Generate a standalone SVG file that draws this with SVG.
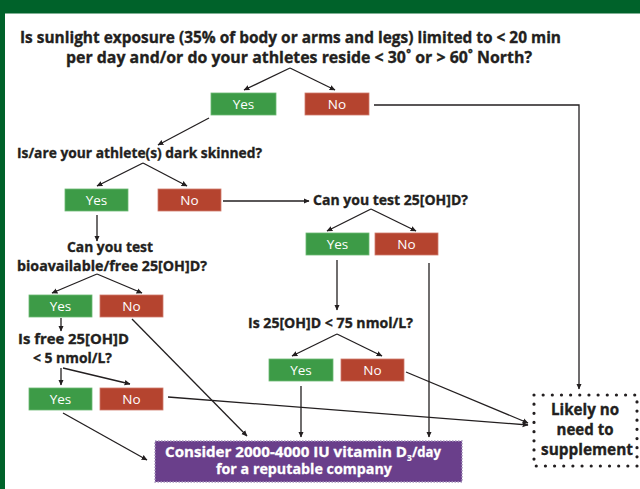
<svg xmlns="http://www.w3.org/2000/svg" width="640" height="489" viewBox="0 0 640 489">
<defs>
<marker id="ah" viewBox="0 0 10 10" refX="9" refY="5" markerWidth="6" markerHeight="6" markerUnits="userSpaceOnUse" orient="auto">
<path d="M0,0.5 L10,5 L0,9.5 z" fill="#231f20"/>
</marker>
<style>
.q{font-family:"Open Sans","Liberation Sans",sans-serif;font-weight:700;fill:#231f20;stroke:#231f20;stroke-width:0.35;}
.q16{font-size:16.5px;}
.q14{font-size:15px;}
.lbl{font-family:"Open Sans","Liberation Sans",sans-serif;font-size:13.5px;fill:#ffffff;text-anchor:middle;}
.yes{fill:#3d9b47;stroke:#6cb873;stroke-width:0.8;}
.no{fill:#b5442f;stroke:#cf7b6c;stroke-width:0.8;}
.c line,.c polyline{stroke:#231f20;stroke-width:1.3;fill:none;}
.arr{marker-end:url(#ah);}
.pt{font-family:"Open Sans","Liberation Sans",sans-serif;font-weight:700;fill:#ffffff;stroke:#ffffff;stroke-width:0.3;font-size:15px;}
.lk{font-family:"Open Sans","Liberation Sans",sans-serif;font-weight:700;fill:#231f20;stroke:#231f20;stroke-width:0.35;font-size:16px;text-anchor:middle;}
</style>
</defs>
<rect x="0" y="0" width="640" height="489" fill="#ffffff"/>
<rect x="0" y="0" width="640" height="13.5" fill="#00622a"/>
<rect x="0" y="0" width="5" height="489" fill="#00622a"/>

<g id="q-sunlight">
<text class="q q16" x="20" y="43" textLength="541" lengthAdjust="spacingAndGlyphs">Is sunlight exposure (35% of body or arms and legs) limited to &lt; 20 min</text>
<text class="q q16" x="66" y="62.5" textLength="466" lengthAdjust="spacingAndGlyphs">per day and/or do your athletes reside &lt; 30˚ or &gt; 60˚ North?</text>
</g>
<g id="yes1"><rect class="yes" x="211" y="93" width="65" height="22"/><text class="lbl" x="243.5" y="108.5">Yes</text></g>
<g id="no1"><rect class="no" x="305" y="93" width="64" height="22"/><text class="lbl" x="337" y="108.5">No</text></g>

<g id="q-dark">
<text class="q q14" x="17" y="158" textLength="245" lengthAdjust="spacingAndGlyphs">Is/are your athlete(s) dark skinned?</text>
</g>
<g id="yes2"><rect class="yes" x="65" y="189" width="63" height="22"/><text class="lbl" x="96.5" y="204.5">Yes</text></g>
<g id="no2"><rect class="no" x="158" y="189" width="63" height="22"/><text class="lbl" x="189.5" y="204.5">No</text></g>

<g id="q-test">
<text class="q q14" x="313" y="205" textLength="155" lengthAdjust="spacingAndGlyphs">Can you test 25[OH]D?</text>
</g>
<g id="yes5"><rect class="yes" x="306" y="233" width="63" height="22"/><text class="lbl" x="337.5" y="248.5">Yes</text></g>
<g id="no5"><rect class="no" x="375" y="233" width="63" height="22"/><text class="lbl" x="406.5" y="248.5">No</text></g>

<g id="q-free">
<text class="q q14" x="67" y="252" textLength="86" lengthAdjust="spacingAndGlyphs">Can you test</text>
<text class="q q14" x="17" y="271" textLength="190" lengthAdjust="spacingAndGlyphs">bioavailable/free 25[OH]D?</text>
</g>
<g id="yes3"><rect class="yes" x="29" y="295" width="63" height="22"/><text class="lbl" x="60.5" y="310.5">Yes</text></g>
<g id="no3"><rect class="no" x="100" y="295" width="63" height="22"/><text class="lbl" x="131.5" y="310.5">No</text></g>

<g id="q-free5">
<text class="q q14" x="18" y="344" textLength="111" lengthAdjust="spacingAndGlyphs">Is free 25[OH]D</text>
<text class="q q14" x="33" y="363" textLength="79" lengthAdjust="spacingAndGlyphs">&lt; 5 nmol/L?</text>
</g>
<g id="yes4"><rect class="yes" x="29" y="388" width="63" height="22"/><text class="lbl" x="60.5" y="403.5">Yes</text></g>
<g id="no4"><rect class="no" x="100" y="388" width="63" height="22"/><text class="lbl" x="131.5" y="403.5">No</text></g>

<g id="q-75">
<text class="q q14" x="248" y="328" textLength="165" lengthAdjust="spacingAndGlyphs">Is 25[OH]D &lt; 75 nmol/L?</text>
</g>
<g id="yes6"><rect class="yes" x="269" y="359" width="64" height="22"/><text class="lbl" x="301" y="374.5">Yes</text></g>
<g id="no6"><rect class="no" x="341" y="359" width="63" height="22"/><text class="lbl" x="372.5" y="374.5">No</text></g>

<g id="consider">
<rect x="155" y="441" width="307" height="41" fill="#6a3f8b" stroke="#a898bd" stroke-width="1.5" stroke-dasharray="1.5 1.5"/>
<text class="pt" x="165" y="457"><tspan textLength="242" lengthAdjust="spacingAndGlyphs">Consider 2000-4000 IU vitamin D</tspan><tspan font-size="8.5" stroke-width="0.15" dy="3.5">3</tspan><tspan dy="-3.5" textLength="29" lengthAdjust="spacingAndGlyphs">/day</tspan></text>
<text class="pt" x="216" y="474" textLength="176" lengthAdjust="spacingAndGlyphs">for a reputable company</text>
</g>

<g id="likely">
<rect x="534" y="395" width="103" height="71" fill="none" stroke="#231f20" stroke-width="3.2" stroke-linecap="round" stroke-dasharray="0 9.158"/>
<text class="lk" x="585" y="415" textLength="68" lengthAdjust="spacingAndGlyphs">Likely no</text>
<text class="lk" x="585" y="434.5" textLength="57" lengthAdjust="spacingAndGlyphs">need to</text>
<text class="lk" x="587" y="455" textLength="92" lengthAdjust="spacingAndGlyphs">supplement</text>
</g>

<g id="connectors" class="c">
<line class="arr" x1="290" y1="68" x2="244" y2="90"/>
<line class="arr" x1="290" y1="68" x2="335" y2="90"/>
<polyline class="arr" points="374,105 579,105 579,389"/>
<line class="arr" x1="209" y1="118" x2="158" y2="145"/>
<line class="arr" x1="143" y1="163" x2="97" y2="186"/>
<line class="arr" x1="143" y1="163" x2="187" y2="186"/>
<line class="arr" x1="223" y1="201" x2="309" y2="201"/>
<line class="arr" x1="97" y1="215" x2="97" y2="241"/>
<line class="arr" x1="371" y1="209" x2="327" y2="231"/>
<line class="arr" x1="371" y1="209" x2="416" y2="231"/>
<line class="arr" x1="337" y1="260" x2="337" y2="310"/>
<line class="arr" x1="97" y1="274" x2="52" y2="293"/>
<line class="arr" x1="97" y1="274" x2="142" y2="293"/>
<line class="arr" x1="61" y1="318" x2="61" y2="331"/>
<line class="arr" x1="61" y1="368" x2="61" y2="385"/>
<line class="arr" x1="63" y1="368" x2="130" y2="384"/>
<line class="arr" x1="337" y1="334" x2="292" y2="356"/>
<line class="arr" x1="337" y1="334" x2="382" y2="356"/>
<line class="arr" x1="132" y1="319" x2="247" y2="436"/>
<line class="arr" x1="63" y1="413" x2="147" y2="460"/>
<line class="arr" x1="168" y1="397" x2="528" y2="425"/>
<line class="arr" x1="406" y1="372" x2="528" y2="423"/>
<line class="arr" x1="301" y1="386" x2="301" y2="437"/>
<line class="arr" x1="429" y1="263" x2="429" y2="437"/>
</g>
</svg>
